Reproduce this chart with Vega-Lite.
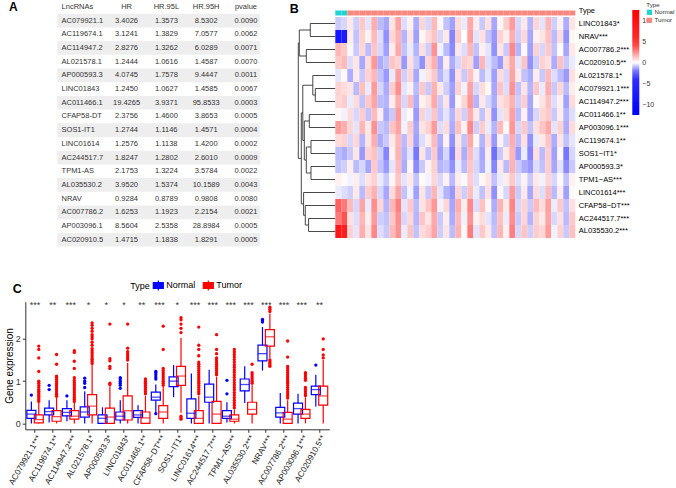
{
"$schema":"https://vega.github.io/schema/vega-lite/v6.json",
"padding":{"left":3.3,"top":0,"right":0,"bottom":0},
"spacing":301.7,
"bounds":"flush",
"resolve":{"scale":{"color":"independent","fill":"independent","stroke":"independent"},"legend":{"color":"independent","fill":"independent","stroke":"independent"}},
"config":{"view":{"stroke":null},"font":"Liberation Sans"},
"datasets":{
"table":[
{"r":0,"LncRNAs":"LncRNAs","HR":"HR","L":"HR.95L","H":"HR.95H","p":"pvalue"},
{"r":1,"LncRNAs":"AC079921.1","HR":"3.4026","L":"1.3573","H":"8.5302","p":"0.0090"},
{"r":2,"LncRNAs":"AC119674.1","HR":"3.1241","L":"1.3829","H":"7.0577","p":"0.0062"},
{"r":3,"LncRNAs":"AC114947.2","HR":"2.8276","L":"1.3262","H":"6.0289","p":"0.0071"},
{"r":4,"LncRNAs":"AL021578.1","HR":"1.2444","L":"1.0616","H":"1.4587","p":"0.0070"},
{"r":5,"LncRNAs":"AP000593.3","HR":"4.0745","L":"1.7578","H":"9.4447","p":"0.0011"},
{"r":6,"LncRNAs":"LINC01843","HR":"1.2450","L":"1.0627","H":"1.4585","p":"0.0067"},
{"r":7,"LncRNAs":"AC011466.1","HR":"19.4265","L":"3.9371","H":"95.8533","p":"0.0003"},
{"r":8,"LncRNAs":"CFAP58-DT","HR":"2.3756","L":"1.4600","H":"3.8653","p":"0.0005"},
{"r":9,"LncRNAs":"SOS1-IT1","HR":"1.2744","L":"1.1146","H":"1.4571","p":"0.0004"},
{"r":10,"LncRNAs":"LINC01614","HR":"1.2576","L":"1.1138","H":"1.4200","p":"0.0002"},
{"r":11,"LncRNAs":"AC244517.7","HR":"1.8247","L":"1.2802","H":"2.6010","p":"0.0009"},
{"r":12,"LncRNAs":"TPM1-AS","HR":"2.1753","L":"1.3224","H":"3.5784","p":"0.0022"},
{"r":13,"LncRNAs":"AL035530.2","HR":"3.9520","L":"1.5374","H":"10.1589","p":"0.0043"},
{"r":14,"LncRNAs":"NRAV","HR":"0.9284","L":"0.8789","H":"0.9808","p":"0.0080"},
{"r":15,"LncRNAs":"AC007786.2","HR":"1.6253","L":"1.1923","H":"2.2154","p":"0.0021"},
{"r":16,"LncRNAs":"AP003096.1","HR":"8.5604","L":"2.5358","H":"28.8984","p":"0.0005"},
{"r":17,"LncRNAs":"AC020910.5","HR":"1.4715","L":"1.1838","H":"1.8291","p":"0.0005"}
],
"dendro":[
{"h1":0,"h2":25,"y1":1,"y2":1},{"h1":0,"h2":25,"y1":2,"y2":2},{"h1":25,"h2":25,"y1":1,"y2":2},
{"h1":0,"h2":29,"y1":3,"y2":3},{"h1":0,"h2":29,"y1":4,"y2":4},{"h1":29,"h2":29,"y1":3,"y2":4},
{"h1":25,"h2":36,"y1":1.5,"y2":1.5},{"h1":29,"h2":36,"y1":3.5,"y2":3.5},{"h1":36,"h2":36,"y1":1.5,"y2":3.5},
{"h1":0,"h2":20,"y1":6,"y2":6},{"h1":0,"h2":20,"y1":7,"y2":7},{"h1":20,"h2":20,"y1":6,"y2":7},
{"h1":0,"h2":22.5,"y1":5,"y2":5},{"h1":20,"h2":22.5,"y1":6.5,"y2":6.5},{"h1":22.5,"h2":22.5,"y1":5,"y2":6.5},
{"h1":0,"h2":26,"y1":8,"y2":8},{"h1":0,"h2":26,"y1":9,"y2":9},{"h1":26,"h2":26,"y1":8,"y2":9},
{"h1":0,"h2":24.3,"y1":10,"y2":10},{"h1":0,"h2":24.3,"y1":11,"y2":11},{"h1":24.3,"h2":24.3,"y1":10,"y2":11},
{"h1":0,"h2":24.3,"y1":12,"y2":12},{"h1":0,"h2":24.3,"y1":13,"y2":13},{"h1":24.3,"h2":24.3,"y1":12,"y2":13},
{"h1":24.3,"h2":29,"y1":10.5,"y2":10.5},{"h1":24.3,"h2":29,"y1":12.5,"y2":12.5},{"h1":29,"h2":29,"y1":10.5,"y2":12.5},
{"h1":26,"h2":31,"y1":8.5,"y2":8.5},{"h1":29,"h2":31,"y1":11.5,"y2":11.5},{"h1":31,"h2":31,"y1":8.5,"y2":11.5},
{"h1":22.5,"h2":32.5,"y1":5.75,"y2":5.75},{"h1":31,"h2":32.5,"y1":10,"y2":10},{"h1":32.5,"h2":32.5,"y1":5.75,"y2":10},
{"h1":0,"h2":26.7,"y1":16,"y2":16},{"h1":0,"h2":26.7,"y1":17,"y2":17},{"h1":26.7,"h2":26.7,"y1":16,"y2":17},
{"h1":0,"h2":30,"y1":15,"y2":15},{"h1":26.7,"h2":30,"y1":16.5,"y2":16.5},{"h1":30,"h2":30,"y1":15,"y2":16.5},
{"h1":0,"h2":31.7,"y1":14,"y2":14},{"h1":30,"h2":31.7,"y1":15.75,"y2":15.75},{"h1":31.7,"h2":31.7,"y1":14,"y2":15.75},
{"h1":32.5,"h2":34,"y1":7.875,"y2":7.875},{"h1":31.7,"h2":34,"y1":14.875,"y2":14.875},{"h1":34,"h2":34,"y1":7.875,"y2":14.875},
{"h1":36,"h2":37,"y1":2.5,"y2":2.5},{"h1":34,"h2":37,"y1":11.375,"y2":11.375},{"h1":37,"h2":37,"y1":2.5,"y2":11.375}
],
"types":[
{"s":1,"t":"Normal"},{"s":2,"t":"Normal"},{"s":3,"t":"Tumor"},{"s":4,"t":"Tumor"},{"s":5,"t":"Tumor"},{"s":6,"t":"Tumor"},{"s":7,"t":"Tumor"},{"s":8,"t":"Tumor"},{"s":9,"t":"Tumor"},{"s":10,"t":"Tumor"},
{"s":11,"t":"Tumor"},{"s":12,"t":"Tumor"},{"s":13,"t":"Tumor"},{"s":14,"t":"Tumor"},{"s":15,"t":"Tumor"},{"s":16,"t":"Tumor"},{"s":17,"t":"Tumor"},{"s":18,"t":"Tumor"},{"s":19,"t":"Tumor"},{"s":20,"t":"Tumor"},
{"s":21,"t":"Tumor"},{"s":22,"t":"Tumor"},{"s":23,"t":"Tumor"},{"s":24,"t":"Tumor"},{"s":25,"t":"Tumor"},{"s":26,"t":"Tumor"},{"s":27,"t":"Tumor"},{"s":28,"t":"Tumor"},{"s":29,"t":"Tumor"},{"s":30,"t":"Tumor"},
{"s":31,"t":"Tumor"},{"s":32,"t":"Tumor"},{"s":33,"t":"Tumor"},{"s":34,"t":"Tumor"},{"s":35,"t":"Tumor"},{"s":36,"t":"Tumor"},{"s":37,"t":"Tumor"},{"s":38,"t":"Tumor"},{"s":39,"t":"Tumor"},{"s":40,"t":"Tumor"}
],
"heat":[
{"g":"LINC01843*","s":1,"v":-0.8},{"g":"LINC01843*","s":2,"v":-0.6},{"g":"LINC01843*","s":3,"v":0.5},{"g":"LINC01843*","s":4,"v":-0.7},{"g":"LINC01843*","s":5,"v":1.2},{"g":"LINC01843*","s":6,"v":-0.4},{"g":"LINC01843*","s":7,"v":1.8},{"g":"LINC01843*","s":8,"v":-1.0},{"g":"LINC01843*","s":9,"v":-1.3},{"g":"LINC01843*","s":10,"v":0.6},
{"g":"LINC01843*","s":11,"v":2.0},{"g":"LINC01843*","s":12,"v":-0.5},{"g":"LINC01843*","s":13,"v":0.3},{"g":"LINC01843*","s":14,"v":-1.2},{"g":"LINC01843*","s":15,"v":0.9},{"g":"LINC01843*","s":16,"v":-0.6},{"g":"LINC01843*","s":17,"v":1.5},{"g":"LINC01843*","s":18,"v":0.2},{"g":"LINC01843*","s":19,"v":-0.9},{"g":"LINC01843*","s":20,"v":-1.4},
{"g":"LINC01843*","s":21,"v":0.8},{"g":"LINC01843*","s":22,"v":-0.3},{"g":"LINC01843*","s":23,"v":1.9},{"g":"LINC01843*","s":24,"v":0.4},{"g":"LINC01843*","s":25,"v":-0.8},{"g":"LINC01843*","s":26,"v":0.7},{"g":"LINC01843*","s":27,"v":-1.3},{"g":"LINC01843*","s":28,"v":0.2},{"g":"LINC01843*","s":29,"v":1.1},{"g":"LINC01843*","s":30,"v":2.2},
{"g":"LINC01843*","s":31,"v":-0.6},{"g":"LINC01843*","s":32,"v":0.5},{"g":"LINC01843*","s":33,"v":-1.1},{"g":"LINC01843*","s":34,"v":0.9},{"g":"LINC01843*","s":35,"v":-0.4},{"g":"LINC01843*","s":36,"v":1.6},{"g":"LINC01843*","s":37,"v":-0.7},{"g":"LINC01843*","s":38,"v":0.3},{"g":"LINC01843*","s":39,"v":-1.2},{"g":"LINC01843*","s":40,"v":0.6},
{"g":"NRAV***","s":1,"v":-8.5},{"g":"NRAV***","s":2,"v":-7.5},{"g":"NRAV***","s":3,"v":0.4},{"g":"NRAV***","s":4,"v":-0.9},{"g":"NRAV***","s":5,"v":1.0},{"g":"NRAV***","s":6,"v":0.3},{"g":"NRAV***","s":7,"v":1.5},{"g":"NRAV***","s":8,"v":-0.5},{"g":"NRAV***","s":9,"v":-1.6},{"g":"NRAV***","s":10,"v":0.9},
{"g":"NRAV***","s":11,"v":1.7},{"g":"NRAV***","s":12,"v":-1.1},{"g":"NRAV***","s":13,"v":0.6},{"g":"NRAV***","s":14,"v":-1.4},{"g":"NRAV***","s":15,"v":0.2},{"g":"NRAV***","s":16,"v":0.8},{"g":"NRAV***","s":17,"v":1.3},{"g":"NRAV***","s":18,"v":-0.6},{"g":"NRAV***","s":19,"v":0.5},{"g":"NRAV***","s":20,"v":-1.8},
{"g":"NRAV***","s":21,"v":1.1},{"g":"NRAV***","s":22,"v":0.0},{"g":"NRAV***","s":23,"v":2.1},{"g":"NRAV***","s":24,"v":-0.4},{"g":"NRAV***","s":25,"v":0.7},{"g":"NRAV***","s":26,"v":-0.9},{"g":"NRAV***","s":27,"v":-1.5},{"g":"NRAV***","s":28,"v":1.0},{"g":"NRAV***","s":29,"v":0.4},{"g":"NRAV***","s":30,"v":1.8},
{"g":"NRAV***","s":31,"v":-0.7},{"g":"NRAV***","s":32,"v":0.9},{"g":"NRAV***","s":33,"v":-1.3},{"g":"NRAV***","s":34,"v":0.3},{"g":"NRAV***","s":35,"v":0.6},{"g":"NRAV***","s":36,"v":1.4},{"g":"NRAV***","s":37,"v":-1.0},{"g":"NRAV***","s":38,"v":0.8},{"g":"NRAV***","s":39,"v":-1.6},{"g":"NRAV***","s":40,"v":0.2},
{"g":"AC007786.2***","s":1,"v":1.6},{"g":"AC007786.2***","s":2,"v":1.2},{"g":"AC007786.2***","s":3,"v":0.2},{"g":"AC007786.2***","s":4,"v":-0.8},{"g":"AC007786.2***","s":5,"v":0.9},{"g":"AC007786.2***","s":6,"v":-1.0},{"g":"AC007786.2***","s":7,"v":1.3},{"g":"AC007786.2***","s":8,"v":-0.6},{"g":"AC007786.2***","s":9,"v":-1.4},{"g":"AC007786.2***","s":10,"v":0.4},
{"g":"AC007786.2***","s":11,"v":1.9},{"g":"AC007786.2***","s":12,"v":-0.9},{"g":"AC007786.2***","s":13,"v":-0.3},{"g":"AC007786.2***","s":14,"v":-1.1},{"g":"AC007786.2***","s":15,"v":0.7},{"g":"AC007786.2***","s":16,"v":-0.7},{"g":"AC007786.2***","s":17,"v":2.4},{"g":"AC007786.2***","s":18,"v":-0.2},{"g":"AC007786.2***","s":19,"v":-1.0},{"g":"AC007786.2***","s":20,"v":-1.7},
{"g":"AC007786.2***","s":21,"v":0.5},{"g":"AC007786.2***","s":22,"v":-0.5},{"g":"AC007786.2***","s":23,"v":1.6},{"g":"AC007786.2***","s":24,"v":-0.9},{"g":"AC007786.2***","s":25,"v":0.3},{"g":"AC007786.2***","s":26,"v":-0.4},{"g":"AC007786.2***","s":27,"v":-1.6},{"g":"AC007786.2***","s":28,"v":0.6},{"g":"AC007786.2***","s":29,"v":-0.8},{"g":"AC007786.2***","s":30,"v":2.6},
{"g":"AC007786.2***","s":31,"v":-1.1},{"g":"AC007786.2***","s":32,"v":0.2},{"g":"AC007786.2***","s":33,"v":-1.4},{"g":"AC007786.2***","s":34,"v":1.0},{"g":"AC007786.2***","s":35,"v":-0.6},{"g":"AC007786.2***","s":36,"v":1.2},{"g":"AC007786.2***","s":37,"v":-0.9},{"g":"AC007786.2***","s":38,"v":0.1},{"g":"AC007786.2***","s":39,"v":-1.3},{"g":"AC007786.2***","s":40,"v":0.5},
{"g":"AC020910.5**","s":1,"v":1.2},{"g":"AC020910.5**","s":2,"v":1.5},{"g":"AC020910.5**","s":3,"v":-0.5},{"g":"AC020910.5**","s":4,"v":0.6},{"g":"AC020910.5**","s":5,"v":-1.3},{"g":"AC020910.5**","s":6,"v":0.8},{"g":"AC020910.5**","s":7,"v":2.3},{"g":"AC020910.5**","s":8,"v":-1.2},{"g":"AC020910.5**","s":9,"v":-0.9},{"g":"AC020910.5**","s":10,"v":1.3},
{"g":"AC020910.5**","s":11,"v":1.0},{"g":"AC020910.5**","s":12,"v":-1.5},{"g":"AC020910.5**","s":13,"v":0.7},{"g":"AC020910.5**","s":14,"v":-0.8},{"g":"AC020910.5**","s":15,"v":-1.6},{"g":"AC020910.5**","s":16,"v":0.9},{"g":"AC020910.5**","s":17,"v":1.8},{"g":"AC020910.5**","s":18,"v":-1.3},{"g":"AC020910.5**","s":19,"v":0.4},{"g":"AC020910.5**","s":20,"v":-1.2},
{"g":"AC020910.5**","s":21,"v":-0.6},{"g":"AC020910.5**","s":22,"v":1.1},{"g":"AC020910.5**","s":23,"v":0.9},{"g":"AC020910.5**","s":24,"v":-1.4},{"g":"AC020910.5**","s":25,"v":1.6},{"g":"AC020910.5**","s":26,"v":-0.5},{"g":"AC020910.5**","s":27,"v":-1.0},{"g":"AC020910.5**","s":28,"v":-1.5},{"g":"AC020910.5**","s":29,"v":0.8},{"g":"AC020910.5**","s":30,"v":1.9},
{"g":"AC020910.5**","s":31,"v":-0.4},{"g":"AC020910.5**","s":32,"v":1.3},{"g":"AC020910.5**","s":33,"v":-1.6},{"g":"AC020910.5**","s":34,"v":-0.7},{"g":"AC020910.5**","s":35,"v":1.0},{"g":"AC020910.5**","s":36,"v":0.7},{"g":"AC020910.5**","s":37,"v":-1.2},{"g":"AC020910.5**","s":38,"v":1.4},{"g":"AC020910.5**","s":39,"v":-0.8},{"g":"AC020910.5**","s":40,"v":-0.3},
{"g":"AL021578.1*","s":1,"v":-0.4},{"g":"AL021578.1*","s":2,"v":0.2},{"g":"AL021578.1*","s":3,"v":-1.2},{"g":"AL021578.1*","s":4,"v":0.5},{"g":"AL021578.1*","s":5,"v":-0.8},{"g":"AL021578.1*","s":6,"v":1.0},{"g":"AL021578.1*","s":7,"v":1.6},{"g":"AL021578.1*","s":8,"v":-0.9},{"g":"AL021578.1*","s":9,"v":-1.5},{"g":"AL021578.1*","s":10,"v":-0.3},
{"g":"AL021578.1*","s":11,"v":2.1},{"g":"AL021578.1*","s":12,"v":-0.7},{"g":"AL021578.1*","s":13,"v":0.9},{"g":"AL021578.1*","s":14,"v":-1.3},{"g":"AL021578.1*","s":15,"v":-0.2},{"g":"AL021578.1*","s":16,"v":0.6},{"g":"AL021578.1*","s":17,"v":1.2},{"g":"AL021578.1*","s":18,"v":-1.1},{"g":"AL021578.1*","s":19,"v":-0.5},{"g":"AL021578.1*","s":20,"v":-1.6},
{"g":"AL021578.1*","s":21,"v":0.7},{"g":"AL021578.1*","s":22,"v":-0.8},{"g":"AL021578.1*","s":23,"v":1.4},{"g":"AL021578.1*","s":24,"v":0.3},{"g":"AL021578.1*","s":25,"v":-1.0},{"g":"AL021578.1*","s":26,"v":-0.4},{"g":"AL021578.1*","s":27,"v":-1.4},{"g":"AL021578.1*","s":28,"v":0.8},{"g":"AL021578.1*","s":29,"v":-0.6},{"g":"AL021578.1*","s":30,"v":2.0},
{"g":"AL021578.1*","s":31,"v":0.5},{"g":"AL021578.1*","s":32,"v":-0.9},{"g":"AL021578.1*","s":33,"v":-1.2},{"g":"AL021578.1*","s":34,"v":0.4},{"g":"AL021578.1*","s":35,"v":-0.8},{"g":"AL021578.1*","s":36,"v":1.5},{"g":"AL021578.1*","s":37,"v":-0.5},{"g":"AL021578.1*","s":38,"v":-1.0},{"g":"AL021578.1*","s":39,"v":-1.5},{"g":"AL021578.1*","s":40,"v":0.7},
{"g":"AC079921.1***","s":1,"v":1.0},{"g":"AC079921.1***","s":2,"v":0.8},{"g":"AC079921.1***","s":3,"v":0.6},{"g":"AC079921.1***","s":4,"v":-1.0},{"g":"AC079921.1***","s":5,"v":1.4},{"g":"AC079921.1***","s":6,"v":-0.3},{"g":"AC079921.1***","s":7,"v":2.2},{"g":"AC079921.1***","s":8,"v":-0.6},{"g":"AC079921.1***","s":9,"v":-1.2},{"g":"AC079921.1***","s":10,"v":1.1},
{"g":"AC079921.1***","s":11,"v":2.5},{"g":"AC079921.1***","s":12,"v":-0.4},{"g":"AC079921.1***","s":13,"v":0.3},{"g":"AC079921.1***","s":14,"v":-1.0},{"g":"AC079921.1***","s":15,"v":1.2},{"g":"AC079921.1***","s":16,"v":-0.8},{"g":"AC079921.1***","s":17,"v":1.7},{"g":"AC079921.1***","s":18,"v":0.5},{"g":"AC079921.1***","s":19,"v":-0.7},{"g":"AC079921.1***","s":20,"v":-1.4},
{"g":"AC079921.1***","s":21,"v":1.0},{"g":"AC079921.1***","s":22,"v":-0.2},{"g":"AC079921.1***","s":23,"v":2.0},{"g":"AC079921.1***","s":24,"v":-0.6},{"g":"AC079921.1***","s":25,"v":0.8},{"g":"AC079921.1***","s":26,"v":0.2},{"g":"AC079921.1***","s":27,"v":-1.3},{"g":"AC079921.1***","s":28,"v":1.3},{"g":"AC079921.1***","s":29,"v":-0.5},{"g":"AC079921.1***","s":30,"v":2.4},
{"g":"AC079921.1***","s":31,"v":-0.9},{"g":"AC079921.1***","s":32,"v":0.6},{"g":"AC079921.1***","s":33,"v":-1.1},{"g":"AC079921.1***","s":34,"v":1.2},{"g":"AC079921.1***","s":35,"v":-0.3},{"g":"AC079921.1***","s":36,"v":1.8},{"g":"AC079921.1***","s":37,"v":-0.8},{"g":"AC079921.1***","s":38,"v":0.9},{"g":"AC079921.1***","s":39,"v":-1.0},{"g":"AC079921.1***","s":40,"v":0.4},
{"g":"AC114947.2***","s":1,"v":0.9},{"g":"AC114947.2***","s":2,"v":1.1},{"g":"AC114947.2***","s":3,"v":-0.3},{"g":"AC114947.2***","s":4,"v":0.8},{"g":"AC114947.2***","s":5,"v":-0.9},{"g":"AC114947.2***","s":6,"v":1.2},{"g":"AC114947.2***","s":7,"v":2.0},{"g":"AC114947.2***","s":8,"v":-1.0},{"g":"AC114947.2***","s":9,"v":-1.1},{"g":"AC114947.2***","s":10,"v":0.4},
{"g":"AC114947.2***","s":11,"v":1.8},{"g":"AC114947.2***","s":12,"v":-0.6},{"g":"AC114947.2***","s":13,"v":1.5},{"g":"AC114947.2***","s":14,"v":-1.2},{"g":"AC114947.2***","s":15,"v":0.3},{"g":"AC114947.2***","s":16,"v":0.7},{"g":"AC114947.2***","s":17,"v":1.9},{"g":"AC114947.2***","s":18,"v":-0.8},{"g":"AC114947.2***","s":19,"v":0.6},{"g":"AC114947.2***","s":20,"v":-1.5},
{"g":"AC114947.2***","s":21,"v":0.2},{"g":"AC114947.2***","s":22,"v":0.9},{"g":"AC114947.2***","s":23,"v":2.3},{"g":"AC114947.2***","s":24,"v":-1.1},{"g":"AC114947.2***","s":25,"v":0.5},{"g":"AC114947.2***","s":26,"v":-0.6},{"g":"AC114947.2***","s":27,"v":-1.2},{"g":"AC114947.2***","s":28,"v":0.7},{"g":"AC114947.2***","s":29,"v":1.0},{"g":"AC114947.2***","s":30,"v":1.7},
{"g":"AC114947.2***","s":31,"v":-0.7},{"g":"AC114947.2***","s":32,"v":1.1},{"g":"AC114947.2***","s":33,"v":-1.3},{"g":"AC114947.2***","s":34,"v":0.2},{"g":"AC114947.2***","s":35,"v":0.6},{"g":"AC114947.2***","s":36,"v":1.4},{"g":"AC114947.2***","s":37,"v":-0.5},{"g":"AC114947.2***","s":38,"v":0.3},{"g":"AC114947.2***","s":39,"v":-1.4},{"g":"AC114947.2***","s":40,"v":0.8},
{"g":"AC011466.1**","s":1,"v":0.2},{"g":"AC011466.1**","s":2,"v":-0.2},{"g":"AC011466.1**","s":3,"v":0.8},{"g":"AC011466.1**","s":4,"v":-0.6},{"g":"AC011466.1**","s":5,"v":1.1},{"g":"AC011466.1**","s":6,"v":-0.9},{"g":"AC011466.1**","s":7,"v":1.5},{"g":"AC011466.1**","s":8,"v":0.4},{"g":"AC011466.1**","s":9,"v":-1.3},{"g":"AC011466.1**","s":10,"v":-0.8},
{"g":"AC011466.1**","s":11,"v":2.2},{"g":"AC011466.1**","s":12,"v":-0.3},{"g":"AC011466.1**","s":13,"v":0.2},{"g":"AC011466.1**","s":14,"v":-1.5},{"g":"AC011466.1**","s":15,"v":1.0},{"g":"AC011466.1**","s":16,"v":-0.5},{"g":"AC011466.1**","s":17,"v":1.3},{"g":"AC011466.1**","s":18,"v":-0.9},{"g":"AC011466.1**","s":19,"v":-0.4},{"g":"AC011466.1**","s":20,"v":-1.1},
{"g":"AC011466.1**","s":21,"v":0.9},{"g":"AC011466.1**","s":22,"v":-0.7},{"g":"AC011466.1**","s":23,"v":1.8},{"g":"AC011466.1**","s":24,"v":0.5},{"g":"AC011466.1**","s":25,"v":-0.9},{"g":"AC011466.1**","s":26,"v":0.6},{"g":"AC011466.1**","s":27,"v":-1.6},{"g":"AC011466.1**","s":28,"v":-0.4},{"g":"AC011466.1**","s":29,"v":0.8},{"g":"AC011466.1**","s":30,"v":2.1},
{"g":"AC011466.1**","s":31,"v":-1.0},{"g":"AC011466.1**","s":32,"v":0.3},{"g":"AC011466.1**","s":33,"v":-1.4},{"g":"AC011466.1**","s":34,"v":-0.6},{"g":"AC011466.1**","s":35,"v":0.9},{"g":"AC011466.1**","s":36,"v":1.2},{"g":"AC011466.1**","s":37,"v":-0.8},{"g":"AC011466.1**","s":38,"v":0.4},{"g":"AC011466.1**","s":39,"v":-1.1},{"g":"AC011466.1**","s":40,"v":-0.5},
{"g":"AP003096.1***","s":1,"v":2.2},{"g":"AP003096.1***","s":2,"v":1.8},{"g":"AP003096.1***","s":3,"v":0.9},{"g":"AP003096.1***","s":4,"v":-0.4},{"g":"AP003096.1***","s":5,"v":1.6},{"g":"AP003096.1***","s":6,"v":0.5},{"g":"AP003096.1***","s":7,"v":2.4},{"g":"AP003096.1***","s":8,"v":-0.8},{"g":"AP003096.1***","s":9,"v":-1.0},{"g":"AP003096.1***","s":10,"v":1.3},
{"g":"AP003096.1***","s":11,"v":2.0},{"g":"AP003096.1***","s":12,"v":-0.2},{"g":"AP003096.1***","s":13,"v":1.1},{"g":"AP003096.1***","s":14,"v":-1.3},{"g":"AP003096.1***","s":15,"v":0.6},{"g":"AP003096.1***","s":16,"v":1.0},{"g":"AP003096.1***","s":17,"v":2.2},{"g":"AP003096.1***","s":18,"v":-0.5},{"g":"AP003096.1***","s":19,"v":0.8},{"g":"AP003096.1***","s":20,"v":-1.2},
{"g":"AP003096.1***","s":21,"v":1.4},{"g":"AP003096.1***","s":22,"v":0.3},{"g":"AP003096.1***","s":23,"v":2.6},{"g":"AP003096.1***","s":24,"v":-0.7},{"g":"AP003096.1***","s":25,"v":1.1},{"g":"AP003096.1***","s":26,"v":-0.3},{"g":"AP003096.1***","s":27,"v":-1.1},{"g":"AP003096.1***","s":28,"v":1.5},{"g":"AP003096.1***","s":29,"v":0.2},{"g":"AP003096.1***","s":30,"v":2.3},
{"g":"AP003096.1***","s":31,"v":-0.6},{"g":"AP003096.1***","s":32,"v":1.2},{"g":"AP003096.1***","s":33,"v":-0.9},{"g":"AP003096.1***","s":34,"v":0.7},{"g":"AP003096.1***","s":35,"v":1.3},{"g":"AP003096.1***","s":36,"v":1.9},{"g":"AP003096.1***","s":37,"v":-0.4},{"g":"AP003096.1***","s":38,"v":1.0},{"g":"AP003096.1***","s":39,"v":-1.2},{"g":"AP003096.1***","s":40,"v":0.8},
{"g":"AC119674.1**","s":1,"v":0.8},{"g":"AC119674.1**","s":2,"v":1.0},{"g":"AC119674.1**","s":3,"v":-0.6},{"g":"AC119674.1**","s":4,"v":0.9},{"g":"AC119674.1**","s":5,"v":-1.1},{"g":"AC119674.1**","s":6,"v":0.6},{"g":"AC119674.1**","s":7,"v":1.8},{"g":"AC119674.1**","s":8,"v":-1.2},{"g":"AC119674.1**","s":9,"v":-0.8},{"g":"AC119674.1**","s":10,"v":0.5},
{"g":"AC119674.1**","s":11,"v":1.6},{"g":"AC119674.1**","s":12,"v":-1.0},{"g":"AC119674.1**","s":13,"v":0.9},{"g":"AC119674.1**","s":14,"v":-1.4},{"g":"AC119674.1**","s":15,"v":-0.5},{"g":"AC119674.1**","s":16,"v":0.4},{"g":"AC119674.1**","s":17,"v":1.5},{"g":"AC119674.1**","s":18,"v":-1.2},{"g":"AC119674.1**","s":19,"v":0.3},{"g":"AC119674.1**","s":20,"v":-1.6},
{"g":"AC119674.1**","s":21,"v":0.6},{"g":"AC119674.1**","s":22,"v":-0.9},{"g":"AC119674.1**","s":23,"v":1.9},{"g":"AC119674.1**","s":24,"v":0.2},{"g":"AC119674.1**","s":25,"v":-1.1},{"g":"AC119674.1**","s":26,"v":0.8},{"g":"AC119674.1**","s":27,"v":-1.5},{"g":"AC119674.1**","s":28,"v":0.3},{"g":"AC119674.1**","s":29,"v":-0.7},{"g":"AC119674.1**","s":30,"v":1.8},
{"g":"AC119674.1**","s":31,"v":-1.0},{"g":"AC119674.1**","s":32,"v":0.7},{"g":"AC119674.1**","s":33,"v":-1.6},{"g":"AC119674.1**","s":34,"v":-0.3},{"g":"AC119674.1**","s":35,"v":0.5},{"g":"AC119674.1**","s":36,"v":1.3},{"g":"AC119674.1**","s":37,"v":-1.2},{"g":"AC119674.1**","s":38,"v":0.6},{"g":"AC119674.1**","s":39,"v":-0.9},{"g":"AC119674.1**","s":40,"v":-0.4},
{"g":"SOS1−IT1*","s":1,"v":-1.0},{"g":"SOS1−IT1*","s":2,"v":-1.2},{"g":"SOS1−IT1*","s":3,"v":-0.8},{"g":"SOS1−IT1*","s":4,"v":0.6},{"g":"SOS1−IT1*","s":5,"v":-1.5},{"g":"SOS1−IT1*","s":6,"v":1.0},{"g":"SOS1−IT1*","s":7,"v":1.4},{"g":"SOS1−IT1*","s":8,"v":-0.7},{"g":"SOS1−IT1*","s":9,"v":-1.8},{"g":"SOS1−IT1*","s":10,"v":0.3},
{"g":"SOS1−IT1*","s":11,"v":1.7},{"g":"SOS1−IT1*","s":12,"v":-1.1},{"g":"SOS1−IT1*","s":13,"v":-0.4},{"g":"SOS1−IT1*","s":14,"v":-2.0},{"g":"SOS1−IT1*","s":15,"v":0.6},{"g":"SOS1−IT1*","s":16,"v":-0.9},{"g":"SOS1−IT1*","s":17,"v":1.2},{"g":"SOS1−IT1*","s":18,"v":-1.4},{"g":"SOS1−IT1*","s":19,"v":-0.6},{"g":"SOS1−IT1*","s":20,"v":-1.9},
{"g":"SOS1−IT1*","s":21,"v":0.8},{"g":"SOS1−IT1*","s":22,"v":-1.2},{"g":"SOS1−IT1*","s":23,"v":1.5},{"g":"SOS1−IT1*","s":24,"v":-0.5},{"g":"SOS1−IT1*","s":25,"v":-1.3},{"g":"SOS1−IT1*","s":26,"v":0.4},{"g":"SOS1−IT1*","s":27,"v":-2.1},{"g":"SOS1−IT1*","s":28,"v":-0.8},{"g":"SOS1−IT1*","s":29,"v":0.5},{"g":"SOS1−IT1*","s":30,"v":1.6},
{"g":"SOS1−IT1*","s":31,"v":-1.5},{"g":"SOS1−IT1*","s":32,"v":-0.3},{"g":"SOS1−IT1*","s":33,"v":-1.8},{"g":"SOS1−IT1*","s":34,"v":0.7},{"g":"SOS1−IT1*","s":35,"v":-1.0},{"g":"SOS1−IT1*","s":36,"v":1.1},{"g":"SOS1−IT1*","s":37,"v":-1.4},{"g":"SOS1−IT1*","s":38,"v":0.2},{"g":"SOS1−IT1*","s":39,"v":-2.0},{"g":"SOS1−IT1*","s":40,"v":-0.6},
{"g":"AP000593.3*","s":1,"v":-0.9},{"g":"AP000593.3*","s":2,"v":-0.7},{"g":"AP000593.3*","s":3,"v":0.4},{"g":"AP000593.3*","s":4,"v":-1.0},{"g":"AP000593.3*","s":5,"v":-0.6},{"g":"AP000593.3*","s":6,"v":-1.3},{"g":"AP000593.3*","s":7,"v":1.2},{"g":"AP000593.3*","s":8,"v":-0.9},{"g":"AP000593.3*","s":9,"v":-1.5},{"g":"AP000593.3*","s":10,"v":-0.4},
{"g":"AP000593.3*","s":11,"v":1.5},{"g":"AP000593.3*","s":12,"v":-1.2},{"g":"AP000593.3*","s":13,"v":0.2},{"g":"AP000593.3*","s":14,"v":-1.7},{"g":"AP000593.3*","s":15,"v":-0.8},{"g":"AP000593.3*","s":16,"v":0.3},{"g":"AP000593.3*","s":17,"v":1.0},{"g":"AP000593.3*","s":18,"v":-1.1},{"g":"AP000593.3*","s":19,"v":-0.9},{"g":"AP000593.3*","s":20,"v":-1.6},
{"g":"AP000593.3*","s":21,"v":-0.3},{"g":"AP000593.3*","s":22,"v":-1.0},{"g":"AP000593.3*","s":23,"v":1.3},{"g":"AP000593.3*","s":24,"v":-0.6},{"g":"AP000593.3*","s":25,"v":-1.2},{"g":"AP000593.3*","s":26,"v":-0.2},{"g":"AP000593.3*","s":27,"v":-1.8},{"g":"AP000593.3*","s":28,"v":0.5},{"g":"AP000593.3*","s":29,"v":-1.0},{"g":"AP000593.3*","s":30,"v":1.7},
{"g":"AP000593.3*","s":31,"v":-0.8},{"g":"AP000593.3*","s":32,"v":-1.2},{"g":"AP000593.3*","s":33,"v":-1.5},{"g":"AP000593.3*","s":34,"v":-0.5},{"g":"AP000593.3*","s":35,"v":-0.9},{"g":"AP000593.3*","s":36,"v":1.1},{"g":"AP000593.3*","s":37,"v":-1.3},{"g":"AP000593.3*","s":38,"v":-0.4},{"g":"AP000593.3*","s":39,"v":-1.7},{"g":"AP000593.3*","s":40,"v":-0.8},
{"g":"TPM1−AS***","s":1,"v":0.3},{"g":"TPM1−AS***","s":2,"v":0.1},{"g":"TPM1−AS***","s":3,"v":-0.2},{"g":"TPM1−AS***","s":4,"v":0.4},{"g":"TPM1−AS***","s":5,"v":-0.5},{"g":"TPM1−AS***","s":6,"v":0.6},{"g":"TPM1−AS***","s":7,"v":1.0},{"g":"TPM1−AS***","s":8,"v":-0.3},{"g":"TPM1−AS***","s":9,"v":-0.8},{"g":"TPM1−AS***","s":10,"v":0.2},
{"g":"TPM1−AS***","s":11,"v":1.3},{"g":"TPM1−AS***","s":12,"v":-0.4},{"g":"TPM1−AS***","s":13,"v":0.5},{"g":"TPM1−AS***","s":14,"v":-0.9},{"g":"TPM1−AS***","s":15,"v":0.1},{"g":"TPM1−AS***","s":16,"v":-0.2},{"g":"TPM1−AS***","s":17,"v":0.9},{"g":"TPM1−AS***","s":18,"v":-0.6},{"g":"TPM1−AS***","s":19,"v":0.3},{"g":"TPM1−AS***","s":20,"v":-1.0},
{"g":"TPM1−AS***","s":21,"v":0.4},{"g":"TPM1−AS***","s":22,"v":-0.1},{"g":"TPM1−AS***","s":23,"v":1.1},{"g":"TPM1−AS***","s":24,"v":-0.5},{"g":"TPM1−AS***","s":25,"v":0.2},{"g":"TPM1−AS***","s":26,"v":0.6},{"g":"TPM1−AS***","s":27,"v":-0.9},{"g":"TPM1−AS***","s":28,"v":-0.3},{"g":"TPM1−AS***","s":29,"v":0.4},{"g":"TPM1−AS***","s":30,"v":1.2},
{"g":"TPM1−AS***","s":31,"v":-0.5},{"g":"TPM1−AS***","s":32,"v":0.3},{"g":"TPM1−AS***","s":33,"v":-0.8},{"g":"TPM1−AS***","s":34,"v":0.5},{"g":"TPM1−AS***","s":35,"v":-0.2},{"g":"TPM1−AS***","s":36,"v":0.9},{"g":"TPM1−AS***","s":37,"v":-0.6},{"g":"TPM1−AS***","s":38,"v":0.1},{"g":"TPM1−AS***","s":39,"v":-0.9},{"g":"TPM1−AS***","s":40,"v":0.3},
{"g":"LINC01614***","s":1,"v":-0.3},{"g":"LINC01614***","s":2,"v":-0.5},{"g":"LINC01614***","s":3,"v":-0.7},{"g":"LINC01614***","s":4,"v":0.5},{"g":"LINC01614***","s":5,"v":-1.0},{"g":"LINC01614***","s":6,"v":1.1},{"g":"LINC01614***","s":7,"v":1.7},{"g":"LINC01614***","s":8,"v":-0.6},{"g":"LINC01614***","s":9,"v":-1.3},{"g":"LINC01614***","s":10,"v":0.8},
{"g":"LINC01614***","s":11,"v":2.0},{"g":"LINC01614***","s":12,"v":-0.9},{"g":"LINC01614***","s":13,"v":-0.2},{"g":"LINC01614***","s":14,"v":-1.4},{"g":"LINC01614***","s":15,"v":0.6},{"g":"LINC01614***","s":16,"v":-0.8},{"g":"LINC01614***","s":17,"v":1.6},{"g":"LINC01614***","s":18,"v":-0.4},{"g":"LINC01614***","s":19,"v":-1.1},{"g":"LINC01614***","s":20,"v":-1.5},
{"g":"LINC01614***","s":21,"v":0.9},{"g":"LINC01614***","s":22,"v":-0.7},{"g":"LINC01614***","s":23,"v":1.4},{"g":"LINC01614***","s":24,"v":-0.3},{"g":"LINC01614***","s":25,"v":-0.9},{"g":"LINC01614***","s":26,"v":0.7},{"g":"LINC01614***","s":27,"v":-1.6},{"g":"LINC01614***","s":28,"v":0.2},{"g":"LINC01614***","s":29,"v":-0.6},{"g":"LINC01614***","s":30,"v":2.2},
{"g":"LINC01614***","s":31,"v":-0.8},{"g":"LINC01614***","s":32,"v":0.5},{"g":"LINC01614***","s":33,"v":-1.3},{"g":"LINC01614***","s":34,"v":0.8},{"g":"LINC01614***","s":35,"v":-0.5},{"g":"LINC01614***","s":36,"v":1.5},{"g":"LINC01614***","s":37,"v":-1.0},{"g":"LINC01614***","s":38,"v":0.4},{"g":"LINC01614***","s":39,"v":-1.4},{"g":"LINC01614***","s":40,"v":0.1},
{"g":"CFAP58−DT***","s":1,"v":3.5},{"g":"CFAP58−DT***","s":2,"v":3.0},{"g":"CFAP58−DT***","s":3,"v":1.5},{"g":"CFAP58−DT***","s":4,"v":-0.6},{"g":"CFAP58−DT***","s":5,"v":2.0},{"g":"CFAP58−DT***","s":6,"v":-0.3},{"g":"CFAP58−DT***","s":7,"v":2.5},{"g":"CFAP58−DT***","s":8,"v":0.9},{"g":"CFAP58−DT***","s":9,"v":-1.1},{"g":"CFAP58−DT***","s":10,"v":1.6},
{"g":"CFAP58−DT***","s":11,"v":2.8},{"g":"CFAP58−DT***","s":12,"v":-0.4},{"g":"CFAP58−DT***","s":13,"v":1.2},{"g":"CFAP58−DT***","s":14,"v":-1.0},{"g":"CFAP58−DT***","s":15,"v":0.6},{"g":"CFAP58−DT***","s":16,"v":1.3},{"g":"CFAP58−DT***","s":17,"v":2.3},{"g":"CFAP58−DT***","s":18,"v":-0.2},{"g":"CFAP58−DT***","s":19,"v":0.9},{"g":"CFAP58−DT***","s":20,"v":-1.3},
{"g":"CFAP58−DT***","s":21,"v":1.8},{"g":"CFAP58−DT***","s":22,"v":0.4},{"g":"CFAP58−DT***","s":23,"v":2.6},{"g":"CFAP58−DT***","s":24,"v":-0.5},{"g":"CFAP58−DT***","s":25,"v":1.4},{"g":"CFAP58−DT***","s":26,"v":0.2},{"g":"CFAP58−DT***","s":27,"v":-1.2},{"g":"CFAP58−DT***","s":28,"v":1.7},{"g":"CFAP58−DT***","s":29,"v":0.5},{"g":"CFAP58−DT***","s":30,"v":2.7},
{"g":"CFAP58−DT***","s":31,"v":-0.6},{"g":"CFAP58−DT***","s":32,"v":1.0},{"g":"CFAP58−DT***","s":33,"v":-0.8},{"g":"CFAP58−DT***","s":34,"v":1.5},{"g":"CFAP58−DT***","s":35,"v":0.8},{"g":"CFAP58−DT***","s":36,"v":2.1},{"g":"CFAP58−DT***","s":37,"v":-0.3},{"g":"CFAP58−DT***","s":38,"v":1.2},{"g":"CFAP58−DT***","s":39,"v":-0.9},{"g":"CFAP58−DT***","s":40,"v":0.7},
{"g":"AC244517.7***","s":1,"v":3.0},{"g":"AC244517.7***","s":2,"v":3.8},{"g":"AC244517.7***","s":3,"v":0.7},{"g":"AC244517.7***","s":4,"v":-0.5},{"g":"AC244517.7***","s":5,"v":1.6},{"g":"AC244517.7***","s":6,"v":0.4},{"g":"AC244517.7***","s":7,"v":2.2},{"g":"AC244517.7***","s":8,"v":-0.7},{"g":"AC244517.7***","s":9,"v":-0.9},{"g":"AC244517.7***","s":10,"v":1.2},
{"g":"AC244517.7***","s":11,"v":2.5},{"g":"AC244517.7***","s":12,"v":-0.6},{"g":"AC244517.7***","s":13,"v":0.9},{"g":"AC244517.7***","s":14,"v":-1.1},{"g":"AC244517.7***","s":15,"v":1.3},{"g":"AC244517.7***","s":16,"v":0.6},{"g":"AC244517.7***","s":17,"v":1.9},{"g":"AC244517.7***","s":18,"v":-0.8},{"g":"AC244517.7***","s":19,"v":0.4},{"g":"AC244517.7***","s":20,"v":-1.2},
{"g":"AC244517.7***","s":21,"v":1.5},{"g":"AC244517.7***","s":22,"v":-0.2},{"g":"AC244517.7***","s":23,"v":2.4},{"g":"AC244517.7***","s":24,"v":0.3},{"g":"AC244517.7***","s":25,"v":0.8},{"g":"AC244517.7***","s":26,"v":-0.4},{"g":"AC244517.7***","s":27,"v":-1.0},{"g":"AC244517.7***","s":28,"v":1.4},{"g":"AC244517.7***","s":29,"v":-0.3},{"g":"AC244517.7***","s":30,"v":2.5},
{"g":"AC244517.7***","s":31,"v":-0.8},{"g":"AC244517.7***","s":32,"v":0.9},{"g":"AC244517.7***","s":33,"v":-1.1},{"g":"AC244517.7***","s":34,"v":1.0},{"g":"AC244517.7***","s":35,"v":0.5},{"g":"AC244517.7***","s":36,"v":2.0},{"g":"AC244517.7***","s":37,"v":-0.6},{"g":"AC244517.7***","s":38,"v":0.7},{"g":"AC244517.7***","s":39,"v":-1.0},{"g":"AC244517.7***","s":40,"v":1.2},
{"g":"AL035530.2***","s":1,"v":9.0},{"g":"AL035530.2***","s":2,"v":8.0},{"g":"AL035530.2***","s":3,"v":1.0},{"g":"AL035530.2***","s":4,"v":-0.4},{"g":"AL035530.2***","s":5,"v":1.8},{"g":"AL035530.2***","s":6,"v":0.6},{"g":"AL035530.2***","s":7,"v":2.6},{"g":"AL035530.2***","s":8,"v":-0.5},{"g":"AL035530.2***","s":9,"v":-0.8},{"g":"AL035530.2***","s":10,"v":1.5},
{"g":"AL035530.2***","s":11,"v":2.4},{"g":"AL035530.2***","s":12,"v":-0.3},{"g":"AL035530.2***","s":13,"v":1.3},{"g":"AL035530.2***","s":14,"v":-0.9},{"g":"AL035530.2***","s":15,"v":0.8},{"g":"AL035530.2***","s":16,"v":1.1},{"g":"AL035530.2***","s":17,"v":2.0},{"g":"AL035530.2***","s":18,"v":-0.7},{"g":"AL035530.2***","s":19,"v":0.6},{"g":"AL035530.2***","s":20,"v":-1.0},
{"g":"AL035530.2***","s":21,"v":1.7},{"g":"AL035530.2***","s":22,"v":0.2},{"g":"AL035530.2***","s":23,"v":2.9},{"g":"AL035530.2***","s":24,"v":-0.4},{"g":"AL035530.2***","s":25,"v":1.2},{"g":"AL035530.2***","s":26,"v":0.5},{"g":"AL035530.2***","s":27,"v":-0.9},{"g":"AL035530.2***","s":28,"v":1.6},{"g":"AL035530.2***","s":29,"v":0.3},{"g":"AL035530.2***","s":30,"v":2.8},
{"g":"AL035530.2***","s":31,"v":-0.6},{"g":"AL035530.2***","s":32,"v":1.3},{"g":"AL035530.2***","s":33,"v":-0.7},{"g":"AL035530.2***","s":34,"v":1.1},{"g":"AL035530.2***","s":35,"v":0.9},{"g":"AL035530.2***","s":36,"v":2.2},{"g":"AL035530.2***","s":37,"v":-0.2},{"g":"AL035530.2***","s":38,"v":1.0},{"g":"AL035530.2***","s":39,"v":-0.8},{"g":"AL035530.2***","s":40,"v":1.4}
],
"box":[
{"g":"AC079921.1***","t":"Normal","lo":0,"q1":0.12,"med":0.22,"q3":0.31,"hi":0.52},{"g":"AC079921.1***","t":"Tumor","lo":0,"q1":0.01,"med":0.09,"q3":0.2,"hi":0.48},
{"g":"AC119674.1**","t":"Normal","lo":0.02,"q1":0.2,"med":0.28,"q3":0.36,"hi":0.55},{"g":"AC119674.1**","t":"Tumor","lo":0,"q1":0.05,"med":0.16,"q3":0.3,"hi":0.6},
{"g":"AC114947.2***","t":"Normal","lo":0.05,"q1":0.18,"med":0.26,"q3":0.35,"hi":0.55},{"g":"AC114947.2***","t":"Tumor","lo":0,"q1":0.1,"med":0.17,"q3":0.3,"hi":0.48},
{"g":"AL021578.1*","t":"Normal","lo":0,"q1":0.15,"med":0.27,"q3":0.39,"hi":0.76},{"g":"AL021578.1*","t":"Tumor","lo":0,"q1":0.2,"med":0.41,"q3":0.68,"hi":1.38},
{"g":"AP000593.3*","t":"Normal","lo":0,"q1":0,"med":0.12,"q3":0.2,"hi":0.38},{"g":"AP000593.3*","t":"Tumor","lo":0,"q1":0,"med":0.15,"q3":0.36,"hi":0.88},
{"g":"LINC01843*","t":"Normal","lo":0,"q1":0.08,"med":0.17,"q3":0.27,"hi":0.55},{"g":"LINC01843*","t":"Tumor","lo":0,"q1":0.08,"med":0.3,"q3":0.65,"hi":1.43},
{"g":"AC011466.1**","t":"Normal","lo":0,"q1":0.14,"med":0.2,"q3":0.3,"hi":0.43},{"g":"AC011466.1**","t":"Tumor","lo":0,"q1":0,"med":0.13,"q3":0.27,"hi":0.65},
{"g":"CFAP58−DT***","t":"Normal","lo":0.25,"q1":0.55,"med":0.62,"q3":0.74,"hi":0.92},{"g":"CFAP58−DT***","t":"Tumor","lo":0,"q1":0.12,"med":0.27,"q3":0.42,"hi":0.86},
{"g":"SOS1−IT1*","t":"Normal","lo":0.62,"q1":0.87,"med":1.0,"q3":1.1,"hi":1.38},{"g":"SOS1−IT1*","t":"Tumor","lo":0.25,"q1":0.9,"med":1.12,"q3":1.35,"hi":2.02},
{"g":"LINC01614***","t":"Normal","lo":0,"q1":0.12,"med":0.24,"q3":0.58,"hi":1.18},{"g":"LINC01614***","t":"Tumor","lo":0,"q1":0,"med":0.12,"q3":0.3,"hi":0.65},
{"g":"AC244517.7***","t":"Normal","lo":0,"q1":0.5,"med":0.62,"q3":0.93,"hi":1.27},{"g":"AC244517.7***","t":"Tumor","lo":0,"q1":0,"med":0.22,"q3":0.52,"hi":1.1},
{"g":"TPM1−AS***","t":"Normal","lo":0.02,"q1":0.12,"med":0.17,"q3":0.3,"hi":0.5},{"g":"TPM1−AS***","t":"Tumor","lo":0,"q1":0.05,"med":0.1,"q3":0.2,"hi":0.33},
{"g":"AL035530.2***","t":"Normal","lo":0.48,"q1":0.77,"med":0.92,"q3":1.05,"hi":1.35},{"g":"AL035530.2***","t":"Tumor","lo":0,"q1":0.22,"med":0.33,"q3":0.5,"hi":0.9},
{"g":"NRAV***","t":"Normal","lo":1.25,"q1":1.48,"med":1.65,"q3":1.85,"hi":2.28},{"g":"NRAV***","t":"Tumor","lo":1.55,"q1":1.83,"med":2.05,"q3":2.22,"hi":2.6},
{"g":"AC007786.2***","t":"Normal","lo":0,"q1":0.15,"med":0.25,"q3":0.38,"hi":0.72},{"g":"AC007786.2***","t":"Tumor","lo":0,"q1":0,"med":0.1,"q3":0.26,"hi":0.55},
{"g":"AP003096.1***","t":"Normal","lo":0,"q1":0.22,"med":0.35,"q3":0.48,"hi":0.7},{"g":"AP003096.1***","t":"Tumor","lo":0,"q1":0.12,"med":0.22,"q3":0.33,"hi":0.62},
{"g":"AC020910.5**","t":"Normal","lo":0.4,"q1":0.68,"med":0.8,"q3":0.88,"hi":1.15},{"g":"AC020910.5**","t":"Tumor","lo":0,"q1":0.43,"med":0.65,"q3":0.88,"hi":1.5}
],
"out":[
{"g":"AC079921.1***","t":"Normal","v":0.67},
{"g":"AC079921.1***","t":"Tumor","v":0.52},{"g":"AC079921.1***","t":"Tumor","v":0.56},{"g":"AC079921.1***","t":"Tumor","v":0.6},{"g":"AC079921.1***","t":"Tumor","v":0.64},{"g":"AC079921.1***","t":"Tumor","v":0.68},{"g":"AC079921.1***","t":"Tumor","v":0.72},{"g":"AC079921.1***","t":"Tumor","v":0.76},{"g":"AC079921.1***","t":"Tumor","v":0.8},{"g":"AC079921.1***","t":"Tumor","v":0.85},{"g":"AC079921.1***","t":"Tumor","v":0.9},{"g":"AC079921.1***","t":"Tumor","v":0.95},{"g":"AC079921.1***","t":"Tumor","v":1.0},{"g":"AC079921.1***","t":"Tumor","v":1.23},{"g":"AC079921.1***","t":"Tumor","v":1.55},{"g":"AC079921.1***","t":"Tumor","v":1.75},{"g":"AC079921.1***","t":"Tumor","v":1.83},
{"g":"AC119674.1**","t":"Normal","v":0.8},{"g":"AC119674.1**","t":"Normal","v":0.9},
{"g":"AC119674.1**","t":"Tumor","v":0.64},{"g":"AC119674.1**","t":"Tumor","v":0.69},{"g":"AC119674.1**","t":"Tumor","v":0.74},{"g":"AC119674.1**","t":"Tumor","v":0.79},{"g":"AC119674.1**","t":"Tumor","v":0.84},{"g":"AC119674.1**","t":"Tumor","v":0.89},{"g":"AC119674.1**","t":"Tumor","v":0.94},{"g":"AC119674.1**","t":"Tumor","v":0.99},{"g":"AC119674.1**","t":"Tumor","v":1.04},{"g":"AC119674.1**","t":"Tumor","v":1.09},{"g":"AC119674.1**","t":"Tumor","v":1.12},{"g":"AC119674.1**","t":"Tumor","v":1.4},{"g":"AC119674.1**","t":"Tumor","v":1.63},
{"g":"AC114947.2***","t":"Normal","v":0.65},
{"g":"AC114947.2***","t":"Tumor","v":0.52},{"g":"AC114947.2***","t":"Tumor","v":0.57},{"g":"AC114947.2***","t":"Tumor","v":0.62},{"g":"AC114947.2***","t":"Tumor","v":0.67},{"g":"AC114947.2***","t":"Tumor","v":0.72},{"g":"AC114947.2***","t":"Tumor","v":0.77},{"g":"AC114947.2***","t":"Tumor","v":0.82},{"g":"AC114947.2***","t":"Tumor","v":0.87},{"g":"AC114947.2***","t":"Tumor","v":0.92},{"g":"AC114947.2***","t":"Tumor","v":0.97},{"g":"AC114947.2***","t":"Tumor","v":1.02},{"g":"AC114947.2***","t":"Tumor","v":1.08},{"g":"AC114947.2***","t":"Tumor","v":1.3},{"g":"AC114947.2***","t":"Tumor","v":1.47},{"g":"AC114947.2***","t":"Tumor","v":1.68},{"g":"AC114947.2***","t":"Tumor","v":1.72},
{"g":"AL021578.1*","t":"Normal","v":0.85},{"g":"AL021578.1*","t":"Normal","v":0.95},{"g":"AL021578.1*","t":"Normal","v":1.0},{"g":"AL021578.1*","t":"Normal","v":1.07},
{"g":"AL021578.1*","t":"Tumor","v":1.42},{"g":"AL021578.1*","t":"Tumor","v":1.47},{"g":"AL021578.1*","t":"Tumor","v":1.52},{"g":"AL021578.1*","t":"Tumor","v":1.57},{"g":"AL021578.1*","t":"Tumor","v":1.62},{"g":"AL021578.1*","t":"Tumor","v":1.67},{"g":"AL021578.1*","t":"Tumor","v":1.72},{"g":"AL021578.1*","t":"Tumor","v":1.77},{"g":"AL021578.1*","t":"Tumor","v":1.85},{"g":"AL021578.1*","t":"Tumor","v":1.92},{"g":"AL021578.1*","t":"Tumor","v":2.0},{"g":"AL021578.1*","t":"Tumor","v":2.05},{"g":"AL021578.1*","t":"Tumor","v":2.1},{"g":"AL021578.1*","t":"Tumor","v":2.18},{"g":"AL021578.1*","t":"Tumor","v":2.25},{"g":"AL021578.1*","t":"Tumor","v":2.32},{"g":"AL021578.1*","t":"Tumor","v":2.38},
{"g":"AP000593.3*","t":"Tumor","v":0.92},{"g":"AP000593.3*","t":"Tumor","v":0.95},{"g":"AP000593.3*","t":"Tumor","v":1.3},{"g":"AP000593.3*","t":"Tumor","v":1.35},{"g":"AP000593.3*","t":"Tumor","v":1.48},{"g":"AP000593.3*","t":"Tumor","v":1.53},{"g":"AP000593.3*","t":"Tumor","v":2.35},
{"g":"LINC01843*","t":"Normal","v":0.83},{"g":"LINC01843*","t":"Normal","v":0.9},{"g":"LINC01843*","t":"Normal","v":0.95},{"g":"LINC01843*","t":"Normal","v":1.0},{"g":"LINC01843*","t":"Normal","v":1.05},{"g":"LINC01843*","t":"Normal","v":1.08},
{"g":"LINC01843*","t":"Tumor","v":1.5},{"g":"LINC01843*","t":"Tumor","v":1.55},{"g":"LINC01843*","t":"Tumor","v":1.6},{"g":"LINC01843*","t":"Tumor","v":1.65},{"g":"LINC01843*","t":"Tumor","v":1.7},{"g":"LINC01843*","t":"Tumor","v":1.78},{"g":"LINC01843*","t":"Tumor","v":2.35},
{"g":"AC011466.1**","t":"Tumor","v":0.7},{"g":"AC011466.1**","t":"Tumor","v":0.75},{"g":"AC011466.1**","t":"Tumor","v":0.8},{"g":"AC011466.1**","t":"Tumor","v":0.85},{"g":"AC011466.1**","t":"Tumor","v":0.9},{"g":"AC011466.1**","t":"Tumor","v":0.95},{"g":"AC011466.1**","t":"Tumor","v":1.0},{"g":"AC011466.1**","t":"Tumor","v":1.05},
{"g":"CFAP58−DT***","t":"Normal","v":0.23},{"g":"CFAP58−DT***","t":"Normal","v":1.05},{"g":"CFAP58−DT***","t":"Normal","v":1.1},{"g":"CFAP58−DT***","t":"Normal","v":1.15},{"g":"CFAP58−DT***","t":"Normal","v":1.2},{"g":"CFAP58−DT***","t":"Normal","v":1.23},
{"g":"CFAP58−DT***","t":"Tumor","v":0.9},{"g":"CFAP58−DT***","t":"Tumor","v":0.95},{"g":"CFAP58−DT***","t":"Tumor","v":1.0},{"g":"CFAP58−DT***","t":"Tumor","v":1.05},{"g":"CFAP58−DT***","t":"Tumor","v":1.1},{"g":"CFAP58−DT***","t":"Tumor","v":1.15},{"g":"CFAP58−DT***","t":"Tumor","v":1.2},{"g":"CFAP58−DT***","t":"Tumor","v":1.25},{"g":"CFAP58−DT***","t":"Tumor","v":1.3},{"g":"CFAP58−DT***","t":"Tumor","v":1.75},{"g":"CFAP58−DT***","t":"Tumor","v":2.3},
{"g":"SOS1−IT1*","t":"Tumor","v":0.1},{"g":"SOS1−IT1*","t":"Tumor","v":0.13},{"g":"SOS1−IT1*","t":"Tumor","v":0.17},{"g":"SOS1−IT1*","t":"Tumor","v":2.15},{"g":"SOS1−IT1*","t":"Tumor","v":2.25},{"g":"SOS1−IT1*","t":"Tumor","v":2.35},{"g":"SOS1−IT1*","t":"Tumor","v":2.45},{"g":"SOS1−IT1*","t":"Tumor","v":2.5},
{"g":"LINC01614***","t":"Tumor","v":0.7},{"g":"LINC01614***","t":"Tumor","v":0.75},{"g":"LINC01614***","t":"Tumor","v":0.8},{"g":"LINC01614***","t":"Tumor","v":0.85},{"g":"LINC01614***","t":"Tumor","v":0.9},{"g":"LINC01614***","t":"Tumor","v":0.95},{"g":"LINC01614***","t":"Tumor","v":1.0},{"g":"LINC01614***","t":"Tumor","v":1.05},{"g":"LINC01614***","t":"Tumor","v":1.1},{"g":"LINC01614***","t":"Tumor","v":1.15},{"g":"LINC01614***","t":"Tumor","v":1.2},{"g":"LINC01614***","t":"Tumor","v":1.25},{"g":"LINC01614***","t":"Tumor","v":1.3},{"g":"LINC01614***","t":"Tumor","v":1.35},{"g":"LINC01614***","t":"Tumor","v":1.4},{"g":"LINC01614***","t":"Tumor","v":1.45},{"g":"LINC01614***","t":"Tumor","v":1.6},{"g":"LINC01614***","t":"Tumor","v":1.75},{"g":"LINC01614***","t":"Tumor","v":1.85},{"g":"LINC01614***","t":"Tumor","v":2.28},
{"g":"AC244517.7***","t":"Tumor","v":1.15},{"g":"AC244517.7***","t":"Tumor","v":1.2},{"g":"AC244517.7***","t":"Tumor","v":1.25},{"g":"AC244517.7***","t":"Tumor","v":1.3},{"g":"AC244517.7***","t":"Tumor","v":1.35},{"g":"AC244517.7***","t":"Tumor","v":1.4},{"g":"AC244517.7***","t":"Tumor","v":1.45},{"g":"AC244517.7***","t":"Tumor","v":1.5},{"g":"AC244517.7***","t":"Tumor","v":1.55},{"g":"AC244517.7***","t":"Tumor","v":1.65},{"g":"AC244517.7***","t":"Tumor","v":1.75},{"g":"AC244517.7***","t":"Tumor","v":2.1},
{"g":"TPM1−AS***","t":"Normal","v":0.7},{"g":"TPM1−AS***","t":"Normal","v":1.02},
{"g":"TPM1−AS***","t":"Tumor","v":0.37},{"g":"TPM1−AS***","t":"Tumor","v":0.43},{"g":"TPM1−AS***","t":"Tumor","v":0.49},{"g":"TPM1−AS***","t":"Tumor","v":0.55},{"g":"TPM1−AS***","t":"Tumor","v":0.61},{"g":"TPM1−AS***","t":"Tumor","v":0.67},{"g":"TPM1−AS***","t":"Tumor","v":0.73},{"g":"TPM1−AS***","t":"Tumor","v":0.79},{"g":"TPM1−AS***","t":"Tumor","v":0.85},{"g":"TPM1−AS***","t":"Tumor","v":0.91},{"g":"TPM1−AS***","t":"Tumor","v":0.97},{"g":"TPM1−AS***","t":"Tumor","v":1.03},{"g":"TPM1−AS***","t":"Tumor","v":1.09},{"g":"TPM1−AS***","t":"Tumor","v":1.15},{"g":"TPM1−AS***","t":"Tumor","v":1.21},{"g":"TPM1−AS***","t":"Tumor","v":1.27},{"g":"TPM1−AS***","t":"Tumor","v":1.33},{"g":"TPM1−AS***","t":"Tumor","v":1.39},{"g":"TPM1−AS***","t":"Tumor","v":1.45},{"g":"TPM1−AS***","t":"Tumor","v":1.51},{"g":"TPM1−AS***","t":"Tumor","v":1.57},{"g":"TPM1−AS***","t":"Tumor","v":1.63},{"g":"TPM1−AS***","t":"Tumor","v":1.69},{"g":"TPM1−AS***","t":"Tumor","v":1.75},
{"g":"AL035530.2***","t":"Tumor","v":0.95},{"g":"AL035530.2***","t":"Tumor","v":1.0},{"g":"AL035530.2***","t":"Tumor","v":1.05},{"g":"AL035530.2***","t":"Tumor","v":1.1},{"g":"AL035530.2***","t":"Tumor","v":1.15},{"g":"AL035530.2***","t":"Tumor","v":1.2},{"g":"AL035530.2***","t":"Tumor","v":1.4},
{"g":"NRAV***","t":"Normal","v":2.4},{"g":"NRAV***","t":"Normal","v":2.43},{"g":"NRAV***","t":"Normal","v":2.46},
{"g":"NRAV***","t":"Tumor","v":1.35},{"g":"NRAV***","t":"Tumor","v":1.38},{"g":"NRAV***","t":"Tumor","v":1.42},{"g":"NRAV***","t":"Tumor","v":1.46},{"g":"NRAV***","t":"Tumor","v":1.5},{"g":"NRAV***","t":"Tumor","v":2.65},{"g":"NRAV***","t":"Tumor","v":2.7},{"g":"NRAV***","t":"Tumor","v":2.75},
{"g":"AC007786.2***","t":"Tumor","v":0.6},{"g":"AC007786.2***","t":"Tumor","v":0.65},{"g":"AC007786.2***","t":"Tumor","v":0.7},{"g":"AC007786.2***","t":"Tumor","v":0.75},{"g":"AC007786.2***","t":"Tumor","v":0.8},{"g":"AC007786.2***","t":"Tumor","v":0.85},{"g":"AC007786.2***","t":"Tumor","v":0.9},{"g":"AC007786.2***","t":"Tumor","v":0.95},{"g":"AC007786.2***","t":"Tumor","v":1.0},{"g":"AC007786.2***","t":"Tumor","v":1.05},{"g":"AC007786.2***","t":"Tumor","v":1.1},{"g":"AC007786.2***","t":"Tumor","v":1.15},{"g":"AC007786.2***","t":"Tumor","v":1.2},{"g":"AC007786.2***","t":"Tumor","v":1.25},{"g":"AC007786.2***","t":"Tumor","v":1.3},{"g":"AC007786.2***","t":"Tumor","v":1.35},{"g":"AC007786.2***","t":"Tumor","v":1.57},{"g":"AC007786.2***","t":"Tumor","v":1.95},
{"g":"AP003096.1***","t":"Tumor","v":0.66},{"g":"AP003096.1***","t":"Tumor","v":0.7},{"g":"AP003096.1***","t":"Tumor","v":0.75},{"g":"AP003096.1***","t":"Tumor","v":0.8},{"g":"AP003096.1***","t":"Tumor","v":0.85},{"g":"AP003096.1***","t":"Tumor","v":1.02},{"g":"AP003096.1***","t":"Tumor","v":1.07},{"g":"AP003096.1***","t":"Tumor","v":1.12},{"g":"AP003096.1***","t":"Tumor","v":1.17},{"g":"AP003096.1***","t":"Tumor","v":1.2},
{"g":"AC020910.5**","t":"Normal","v":1.38},
{"g":"AC020910.5**","t":"Tumor","v":1.55},{"g":"AC020910.5**","t":"Tumor","v":1.62},{"g":"AC020910.5**","t":"Tumor","v":1.75},{"g":"AC020910.5**","t":"Tumor","v":2.0}
],
"sig":[
{"g":"AC079921.1***","s":"***"},{"g":"AC119674.1**","s":"**"},{"g":"AC114947.2***","s":"***"},{"g":"AL021578.1*","s":"*"},{"g":"AP000593.3*","s":"*"},{"g":"LINC01843*","s":"*"},{"g":"AC011466.1**","s":"**"},{"g":"CFAP58−DT***","s":"***"},{"g":"SOS1−IT1*","s":"*"},{"g":"LINC01614***","s":"***"},{"g":"AC244517.7***","s":"***"},{"g":"TPM1−AS***","s":"***"},{"g":"AL035530.2***","s":"***"},{"g":"NRAV***","s":"***"},{"g":"AC007786.2***","s":"***"},{"g":"AP003096.1***","s":"***"},{"g":"AC020910.5**","s":"**"}
]
},
"vconcat":[
{"hconcat":[
 {"width":235,"height":246.6,
  "layer":[
   {"data":{"name":"table"},"transform":[{"filter":"datum.r % 2 == 1"}],
    "mark":{"type":"rect","color":"#eeeeee","xOffset":-29.5,"x2Offset":14.3},
    "encoding":{"x":{"datum":"LncRNAs","type":"nominal","scale":{"type":"point","domain":["LncRNAs","HR","L","H","p"],"padding":0.952,"align":0.811},"axis":null},"x2":{"datum":"p"},
     "y":{"field":"r","type":"ordinal","scale":{"domain":[0,1,2,3,4,5,6,7,8,9,10,11,12,13,14,15,16,17],"paddingInner":0,"paddingOuter":0},"axis":null}}},
   {"data":{"name":"table"},"transform":[{"fold":["LncRNAs","HR","L","H","p"],"as":["col","txt"]},{"filter":"datum.col === 'LncRNAs'"}],
    "mark":{"type":"text","align":"left","dx":-25.2,"fontSize":7.5,"color":"#333333"},
    "encoding":{"x":{"field":"col","type":"nominal","axis":null},"y":{"field":"r","type":"ordinal","axis":null},"text":{"field":"txt","type":"nominal"}}},
   {"data":{"name":"table"},"transform":[{"fold":["LncRNAs","HR","L","H","p"],"as":["col","txt"]},{"filter":"datum.col !== 'LncRNAs'"}],
    "mark":{"type":"text","align":"center","fontSize":7.5,"color":"#333333"},
    "encoding":{"x":{"field":"col","type":"nominal","axis":null},"y":{"field":"r","type":"ordinal","axis":null},"text":{"field":"txt","type":"nominal"}}},
   {"data":{"values":[{"lab":"A"}]},
    "mark":{"type":"text","align":"left","dx":-77.8,"fontSize":12,"fontWeight":"bold","color":"#000000"},
    "encoding":{"x":{"datum":"LncRNAs","type":"nominal","axis":null},"y":{"datum":0,"type":"ordinal","axis":null},"text":{"field":"lab","type":"nominal"}}}
  ]},
 {"width":75,"height":242,
  "layer":[
   {"data":{"name":"dendro"},"mark":{"type":"rule","color":"#333333","strokeWidth":0.9},
    "encoding":{"x":{"field":"h1","type":"quantitative","scale":{"domain":[0,75],"reverse":true,"nice":false,"zero":false},"axis":null},"x2":{"field":"h2"},
     "y":{"field":"y1","type":"quantitative","scale":{"domain":[-0.8077,17.8077],"reverse":true,"nice":false,"zero":false},"axis":null},"y2":{"field":"y2"}}},
   {"data":{"values":[{"lab":"B"}]},
    "mark":{"type":"text","fontSize":12.5,"fontWeight":"bold","color":"#000000"},
    "encoding":{"x":{"datum":41,"type":"quantitative","axis":null},"y":{"datum":-0.08,"type":"quantitative","axis":null},"text":{"field":"lab","type":"nominal"}}}
  ]},
 {"width":240,"height":242,
  "layer":[
   {"data":{"name":"heat"},"mark":{"type":"rect"},
    "encoding":{
     "x":{"field":"s","type":"ordinal","scale":{"paddingInner":0,"paddingOuter":0},"axis":null},
     "y":{"field":"g","type":"nominal","scale":{"domain":["Type","LINC01843*","NRAV***","AC007786.2***","AC020910.5**","AL021578.1*","AC079921.1***","AC114947.2***","AC011466.1**","AP003096.1***","AC119674.1**","SOS1−IT1*","AP000593.3*","TPM1−AS***","LINC01614***","CFAP58−DT***","AC244517.7***","AL035530.2***"],"paddingInner":0,"paddingOuter":0.3077},
      "axis":{"orient":"right","title":null,"domain":false,"ticks":false,"labelFontSize":7.5,"labelColor":"#000000","labelPadding":3,"labelLimit":0}},
     "color":{"field":"v","type":"quantitative","scale":{"domain":[-12.5,-3,0,4.5,12.5],"range":["#0000ff","#3333ff","#ffffff","#ff3333","#ff0000"],"interpolate":"rgb"},
      "legend":{"orient":"none","legendX":297,"legendY":10,"title":null,"gradientLength":105,"gradientThickness":7,"values":[-10,-5,0,5,10],"labelFontSize":7,"labelColor":"#333333","labelOffset":3,"gradientStrokeWidth":0,"direction":"vertical","padding":0}}}},
   {"data":{"name":"types"},"mark":{"type":"rect","height":5,"yOffset":2.5,"width":{"band":1}},
    "encoding":{
     "x":{"field":"s","type":"ordinal"},
     "y":{"datum":"Type","type":"nominal"},
     "fill":{"field":"t","type":"nominal","scale":{"domain":["Normal","Tumor"],"range":["#22d3d3","#f8877f"]},
      "legend":{"orient":"none","legendX":311,"legendY":2,"title":"Type","titleFontSize":6.2,"titleFontWeight":"normal","titleColor":"#333333","titlePadding":1,"labelFontSize":6.2,"labelColor":"#333333","symbolType":"square","symbolSize":28,"symbolStrokeWidth":0,"rowPadding":1,"labelOffset":2,"padding":0}}}}
  ]}
],"spacing":0,"bounds":"flush",
 "resolve":{"scale":{"color":"independent","fill":"independent","stroke":"independent"},"legend":{"color":"independent","fill":"independent","stroke":"independent"}}},
{"width":304,"height":127.6,
 "encoding":{"x":{"field":"g","type":"nominal","scale":{"domain":["AC079921.1***","AC119674.1**","AC114947.2***","AL021578.1*","AP000593.3*","LINC01843*","AC011466.1**","CFAP58−DT***","SOS1−IT1*","LINC01614***","AC244517.7***","TPM1−AS***","AL035530.2***","NRAV***","AC007786.2***","AP003096.1***","AC020910.5**"],"paddingInner":0,"paddingOuter":0.05},
   "axis":{"title":null,"labelAngle":-60,"labelAlign":"right","labelBaseline":"top","labelFontSize":8.3,"labelColor":"#1a1a1a","labelPadding":1,"tickSize":3,"tickColor":"#333333","domainColor":"#333333","labelOverlap":false,"labelLimit":0}}},
 "layer":[
  {"data":{"name":"box"},"mark":{"type":"bar","width":9,"filled":false,"strokeWidth":1.2},
   "encoding":{"xOffset":{"field":"t","type":"nominal","scale":{"domain":["Normal","Tumor"],"paddingInner":0,"paddingOuter":0.2}},
    "y":{"field":"q1","type":"quantitative","scale":{"domain":[-0.14,2.88],"nice":false,"zero":false},
     "axis":{"title":"Gene expression","titleFontSize":10,"titleFontWeight":"normal","titleColor":"#000000","titlePadding":1,"values":[0,1,2],"grid":false,"labelFontSize":9,"labelColor":"#333333","tickSize":3,"tickColor":"#333333","domainColor":"#333333","labelPadding":2}},
    "y2":{"field":"q3"},
    "stroke":{"field":"t","type":"nominal","scale":{"domain":["Normal","Tumor"],"range":["#0000ff","#ff0000"]},
     "legend":{"orient":"none","legendX":105,"legendY":-22.5,"direction":"horizontal","title":"Type","titleOrient":"left","titleFontSize":9,"titleFontWeight":"normal","titleColor":"#000000","titlePadding":2,"labelFontSize":9,"labelColor":"#000000","symbolType":"M-1,-0.6H1V0.6H-1Z M-1,0H1 M0,-0.6V-1 M0,0.6V1","symbolSize":100,"symbolStrokeWidth":1.2,"symbolFillColor":"transparent","columnPadding":4,"labelOffset":2,"padding":0}}}},
  {"data":{"name":"box"},"mark":{"type":"rule","strokeWidth":1.2},
   "encoding":{"xOffset":{"field":"t","type":"nominal"},"y":{"field":"lo","type":"quantitative"},"y2":{"field":"q1"},"stroke":{"field":"t","type":"nominal"}}},
  {"data":{"name":"box"},"mark":{"type":"rule","strokeWidth":1.2},
   "encoding":{"xOffset":{"field":"t","type":"nominal"},"y":{"field":"q3","type":"quantitative"},"y2":{"field":"hi"},"stroke":{"field":"t","type":"nominal"}}},
  {"data":{"name":"box"},"mark":{"type":"tick","size":9,"thickness":1.3},
   "encoding":{"xOffset":{"field":"t","type":"nominal"},"y":{"field":"med","type":"quantitative"},"color":{"field":"t","type":"nominal","scale":{"domain":["Normal","Tumor"],"range":["#0000ff","#ff0000"]},"legend":null}}},
  {"data":{"name":"out"},"mark":{"type":"circle","size":11,"opacity":1},
   "encoding":{"xOffset":{"field":"t","type":"nominal"},"y":{"field":"v","type":"quantitative"},"fill":{"field":"t","type":"nominal","scale":{"domain":["Normal","Tumor"],"range":["#0000ff","#ff0000"]},"legend":null}}},
  {"data":{"name":"sig"},"mark":{"type":"text","fontSize":9,"color":"#333333"},
   "encoding":{"y":{"datum":2.8},"text":{"field":"s","type":"nominal"}}},
  {"data":{"values":[{"lab":"C"}]},"mark":{"type":"text","fontSize":12.5,"fontWeight":"bold","dx":-17.8,"color":"#000000"},
   "encoding":{"x":{"datum":"AC079921.1***"},"y":{"datum":3.18},"text":{"field":"lab","type":"nominal"}}}
 ]}
]
}
